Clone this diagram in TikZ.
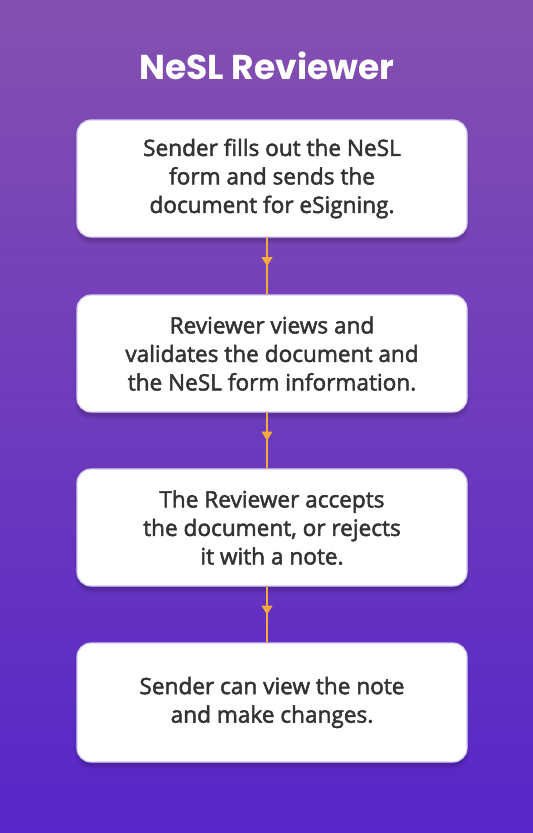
\documentclass[tikz,border=0pt]{standalone}
\usepackage{fontspec}
\setmainfont{Open Sans}
\newfontfamily\bodyfont{Open Sans}[FakeBold=2.2]
\newfontfamily\titlefont{Poppins}
\usetikzlibrary{arrows.meta,decorations.markings,shadows.blur}
\definecolor{bgtop}{RGB}{132,80,176}
\definecolor{bgbot}{RGB}{86,38,200}
\definecolor{boxline}{RGB}{214,202,240}
\definecolor{txt}{RGB}{51,51,51}
\definecolor{arrowc}{RGB}{245,170,60}
\begin{document}
\begin{tikzpicture}[x=1pt,y=-1pt,
 stepbox/.style={draw=boxline, line width=1.2pt, fill=white, rounded corners=14pt,
   minimum width=390pt, minimum height=117pt, align=center, text=txt,
   font=\bodyfont\fontsize{22.6}{28.5}\selectfont, inner sep=0pt,
   blur shadow={shadow blur steps=6, shadow xshift=0pt, shadow yshift=-5pt, shadow opacity=18}},
 flow/.style={draw=arrowc, line width=1.6pt, postaction={decorate},
   decoration={markings, mark=at position 0.5 with {\arrow{Triangle[length=9pt,width=11pt]}}}},
 titletext/.style={font=\titlefont\bfseries\fontsize{34.5}{40}\selectfont, text=white}]
\fill[top color=bgtop, bottom color=bgbot] (0,0) rectangle (533,833);
\useasboundingbox (0,0) rectangle (533,833);
\node[titletext] (title) at (267,66) {NeSL Reviewer};
\node[stepbox] (s1) at (272,178.5) {Sender fills out the NeSL\\form and sends the\\document for eSigning.};
\node[stepbox] (s2) at (272,353.5) {Reviewer views and\\validates the document and\\the NeSL form information.};
\node[stepbox] (s3) at (272,527.5) {The Reviewer accepts\\the document, or rejects\\it with a note.};
\node[stepbox, minimum height=119pt] (s4) at (272,702.5) {Sender can view the note\\and make changes.};
\draw[flow] (s1.south -| title) -- (s2.north -| title);
\draw[flow] (s2.south -| title) -- (s3.north -| title);
\draw[flow] (s3.south -| title) -- (s4.north -| title);
\end{tikzpicture}
\end{document}
